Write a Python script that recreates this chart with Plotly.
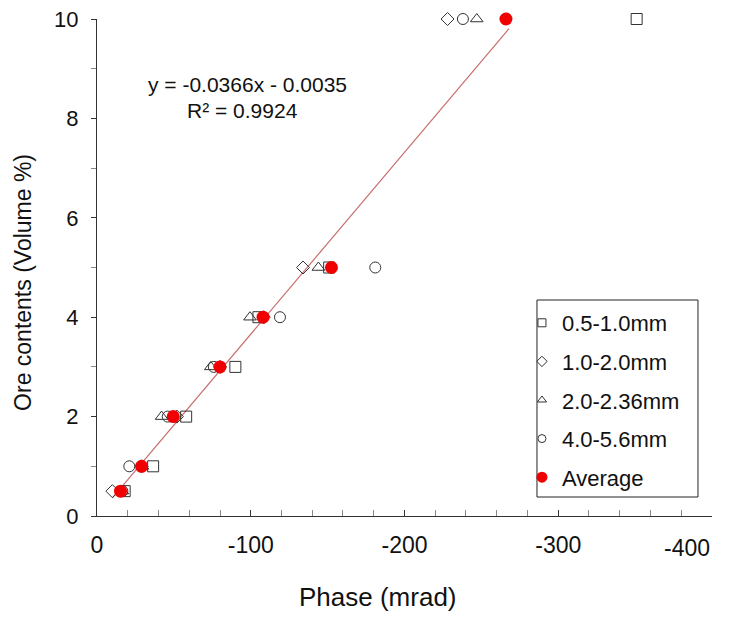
import plotly.graph_objects as go

ore = [0.5, 1, 2, 3, 4, 5, 10]
phase_05_10 = [-18, -36.5, -58, -90, -105, -151, -351]
phase_10_20 = [-10, -29, -52, -80, -108.5, -134, -228]
phase_20_236 = [-16.5, -29.5, -42, -74, -99.5, -144, -247]
phase_40_56 = [-16.5, -21, -46, -76, -119, -181, -238]
phase_avg = [-15.3, -29, -49.6, -80, -108, -152.5, -266]

slope = -0.0366
intercept = -0.0035
trend_x = [-10, -268]
trend_y = [slope * v + intercept for v in trend_x]

x_ticks = [0, -100, -200, -300, -400]
y_ticks = [0, 2, 4, 6, 8, 10]

FONT = "Liberation Sans, Arial, sans-serif"
GRAY = "#333333"
TXT = "#111111"

fig = go.Figure()

fig.add_trace(go.Scatter(x=trend_x, y=trend_y, mode="lines",
                         line=dict(color="rgb(200,110,110)", width=1.2),
                         showlegend=False, hoverinfo="skip", cliponaxis=False))

series = [
    ("0.5-1.0mm", phase_05_10, "square-open", 11),
    ("1.0-2.0mm", phase_10_20, "diamond-open", 10),
    ("2.0-2.36mm", phase_20_236, "triangle-up-open", 11),
    ("4.0-5.6mm", phase_40_56, "circle-open", 11),
]
for i, (name, xs, sym, sz) in enumerate(series):
    fig.add_trace(go.Scatter(x=xs, y=ore, mode="markers", name=name,
                             showlegend=False,
                             marker=dict(symbol=sym, size=sz, color=GRAY,
                                         line=dict(width=1, color=GRAY)),
                             cliponaxis=False))

fig.add_trace(go.Scatter(x=phase_avg, y=ore, mode="markers", name="Average",
                         showlegend=False,
                         marker=dict(symbol="circle", size=13, color="rgb(240,0,0)"),
                         cliponaxis=False))

# legend entries (smaller symbols, as in the reference legend)
for i, (name, xs, sym, sz) in enumerate(series):
    fig.add_trace(go.Scatter(x=[None], y=[None], mode="markers", name=name,
                             legendgroup=f"g{i}",
                             marker=dict(symbol=sym, size=8, color=GRAY,
                                         line=dict(width=1, color=GRAY))))
fig.add_trace(go.Scatter(x=[None], y=[None], mode="markers", name="Average",
                         legendgroup="g4",
                         marker=dict(symbol="circle", size=11, color="rgb(240,0,0)")))

# legend frame
fig.add_shape(type="rect", xref="paper", yref="paper",
              x0=0.7154, x1=0.9772, y0=0.0382, y1=0.4346,
              line=dict(color="#222", width=1), fillcolor="white", layer="below")

fig.add_annotation(x=-97.6, y=8.69, xref="x", yref="y", text="y = -0.0366x - 0.0035",
                   showarrow=False, font=dict(family=FONT, size=21, color=TXT))
fig.add_annotation(x=-94.5, y=8.16, xref="x", yref="y", text="R² = 0.9924",
                   showarrow=False, font=dict(family=FONT, size=21, color=TXT))

# last x tick label, kept inside the chart edge as in the reference
fig.add_annotation(x=x_ticks[-1], y=-0.064, xref="x", yref="paper", text=str(x_ticks[-1]),
                   xanchor="right", yanchor="middle", showarrow=False,
                   font=dict(family=FONT, size=23, color=TXT))

# axis titles
fig.add_annotation(x=0.457, y=-0.163, xref="paper", yref="paper", text="Phase (mrad)",
                   xanchor="center", yanchor="middle",
                   showarrow=False, font=dict(family=FONT, size=26, color=TXT))
fig.add_annotation(x=-0.1203, y=0.469, xref="paper", yref="paper", text="Ore contents (Volume %)",
                   xanchor="center", yanchor="middle",
                   textangle=-90, showarrow=False, font=dict(family=FONT, size=23, color=TXT))

fig.update_layout(
    width=724, height=612,
    margin=dict(l=89, r=20, t=11, b=104),
    paper_bgcolor="white", plot_bgcolor="white",
    font=dict(family=FONT, color=TXT),
    legend=dict(x=0.691, y=0.4306, xanchor="left", yanchor="top",
                borderwidth=0, bgcolor="rgba(0,0,0,0)",
                font=dict(family=FONT, size=22, color=TXT),
                tracegroupgap=7, itemwidth=30),
)

fig.update_xaxes(range=[0, -400.01], tickvals=x_ticks,
                 ticktext=[str(v) for v in x_ticks[:-1]] + [""],
                 automargin=False,
                 showgrid=False, zeroline=False, showline=True, linecolor="#333", linewidth=1,
                 ticks="inside", ticklen=6, tickcolor="#333",
                 minor=dict(dtick=20, ticks="inside", ticklen=6, tickcolor="#888"),
                 tickfont=dict(family=FONT, size=23, color=TXT),
                 ticklabelstandoff=8)

fig.update_yaxes(range=[0, 10], tickvals=y_ticks,
                 automargin=False, ticklabeloverflow="allow",
                 showgrid=False, zeroline=False, showline=True, linecolor="#333", linewidth=1,
                 ticks="outside", ticklen=5, tickcolor="#333",
                 minor=dict(dtick=1, ticks="outside", ticklen=5, tickcolor="#888"),
                 tickfont=dict(family=FONT, size=22, color=TXT),
                 ticklabelstandoff=8)

fig.write_html("out.html")
